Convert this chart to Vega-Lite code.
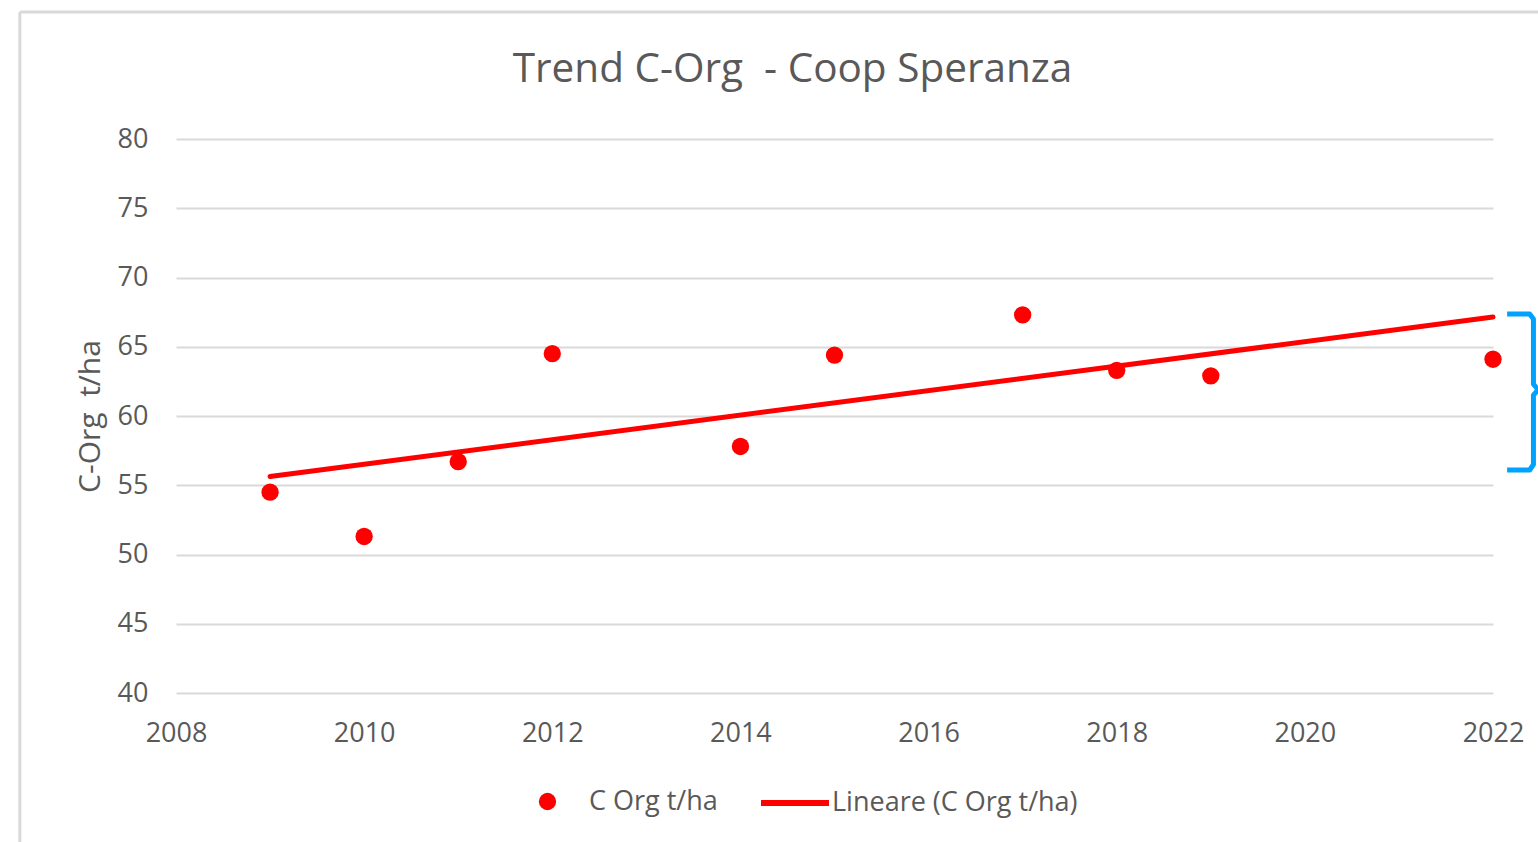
{
  "$schema": "https://vega.github.io/schema/vega-lite/v6.json",
  "width": 1317,
  "height": 554,
  "autosize": {"type": "none"},
  "padding": {"left": 176, "top": 139, "right": 45, "bottom": 149},
  "background": "white",
  "config": {
    "view": {"stroke": null},
    "font": "Open Sans",
    "text": {"font": "Open Sans"}
  },
  "title": {
    "text": "Trend C-Org \u00a0- Coop Speranza",
    "fontSize": 40.5,
    "fontWeight": "normal",
    "color": "#595959",
    "font": "Open Sans",
    "anchor": "middle",
    "dx": -42,
    "offset": -80
  },
  "datasets": {
    "measures": [
      {"year": 2009, "c": 54.5},
      {"year": 2010, "c": 51.3},
      {"year": 2011, "c": 56.7},
      {"year": 2012, "c": 64.5},
      {"year": 2014, "c": 57.8},
      {"year": 2015, "c": 64.4},
      {"year": 2017, "c": 67.3},
      {"year": 2018, "c": 63.3},
      {"year": 2019, "c": 62.9},
      {"year": 2022, "c": 64.1}
    ],
    "bracket": [
      {"i": 1, "bx": 2022.15, "by": 67.36},
      {"i": 2, "bx": 2022.39, "by": 67.36},
      {"i": 3, "bx": 2022.43, "by": 67.0},
      {"i": 4, "bx": 2022.43, "by": 62.3},
      {"i": 5, "bx": 2022.48, "by": 61.9},
      {"i": 6, "bx": 2022.43, "by": 61.5},
      {"i": 7, "bx": 2022.43, "by": 56.5},
      {"i": 8, "bx": 2022.39, "by": 56.1},
      {"i": 9, "bx": 2022.15, "by": 56.1}
    ],
    "frame": [{"left": 2006.34, "right": 2023, "top": 89.17, "bottom": 20}]
  },
  "layer": [
    {
      "data": {"name": "frame"},
      "mark": {"type": "rule", "color": "#d9d9d9", "strokeWidth": 3},
      "encoding": {
        "x": {"field": "left", "type": "quantitative"},
        "y": {"field": "top", "type": "quantitative"},
        "y2": {"field": "bottom"}
      }
    },
    {
      "data": {"name": "frame"},
      "mark": {"type": "rule", "color": "#d9d9d9", "strokeWidth": 3},
      "encoding": {
        "x": {"field": "left", "type": "quantitative"},
        "x2": {"field": "right"},
        "y": {"field": "top", "type": "quantitative"}
      }
    },
    {
      "data": {"name": "measures"},
      "mark": {"type": "circle", "size": 300, "opacity": 1},
      "encoding": {
        "x": {
          "field": "year",
          "type": "quantitative",
          "scale": {"domain": [2008, 2022], "nice": false, "zero": false},
          "axis": {
            "values": [2008, 2010, 2012, 2014, 2016, 2018, 2020, 2022],
            "format": "d",
            "grid": false,
            "domain": false,
            "ticks": false,
            "labelFlush": false,
            "labelPadding": 27,
            "labelFontSize": 27,
            "labelColor": "#595959",
            "labelFont": "Open Sans",
            "title": null
          }
        },
        "y": {
          "field": "c",
          "type": "quantitative",
          "scale": {"domain": [40, 80], "nice": false, "zero": false},
          "axis": {
            "values": [40, 45, 50, 55, 60, 65, 70, 75, 80],
            "grid": true,
            "gridColor": "#d9d9d9",
            "gridWidth": 2,
            "domain": false,
            "ticks": false,
            "labelFlush": false,
            "labelPadding": 28,
            "labelFontSize": 27,
            "labelColor": "#595959",
            "labelFont": "Open Sans",
            "title": "C-Org \u00a0t/ha",
            "titleFontSize": 30,
            "titleFontWeight": "normal",
            "titleColor": "#595959",
            "titleFont": "Open Sans",
            "titlePadding": 12
          }
        },
        "color": {
          "datum": "C Org t/ha",
          "type": "nominal",
          "scale": {"range": ["#ff0000"]},
          "legend": {
            "title": null,
            "orient": "none",
            "legendX": 358,
            "legendY": 649,
            "padding": 0,
            "symbolType": "circle",
            "symbolSize": 300,
            "symbolStrokeWidth": 0,
            "labelOffset": 28,
            "labelLimit": 0,
            "labelFontSize": 27,
            "labelColor": "#595959",
            "labelFont": "Open Sans"
          }
        }
      }
    },
    {
      "data": {"name": "measures"},
      "transform": [{"regression": "c", "on": "year"}],
      "mark": {"type": "line", "strokeWidth": 5, "strokeCap": "round"},
      "encoding": {
        "x": {"field": "year", "type": "quantitative"},
        "y": {"field": "c", "type": "quantitative"},
        "color": {
          "datum": "Lineare (C Org t/ha)",
          "type": "nominal",
          "scale": {"range": ["#ff0000"]},
          "legend": {
            "title": null,
            "orient": "none",
            "legendX": 582,
            "legendY": 627,
            "padding": 0,
            "symbolType": "stroke",
            "symbolSize": 4624,
            "symbolStrokeWidth": 6,
            "labelOffset": 0,
            "labelLimit": 0,
            "labelFontSize": 27,
            "labelColor": "#595959",
            "labelFont": "Open Sans"
          }
        }
      }
    },
    {
      "data": {"name": "bracket"},
      "mark": {"type": "line", "color": "#00a2ff", "strokeWidth": 5, "strokeJoin": "round"},
      "encoding": {
        "x": {"field": "bx", "type": "quantitative"},
        "y": {"field": "by", "type": "quantitative"},
        "order": {"field": "i"}
      }
    }
  ],
  "resolve": {"scale": {"color": "independent"}}
}
